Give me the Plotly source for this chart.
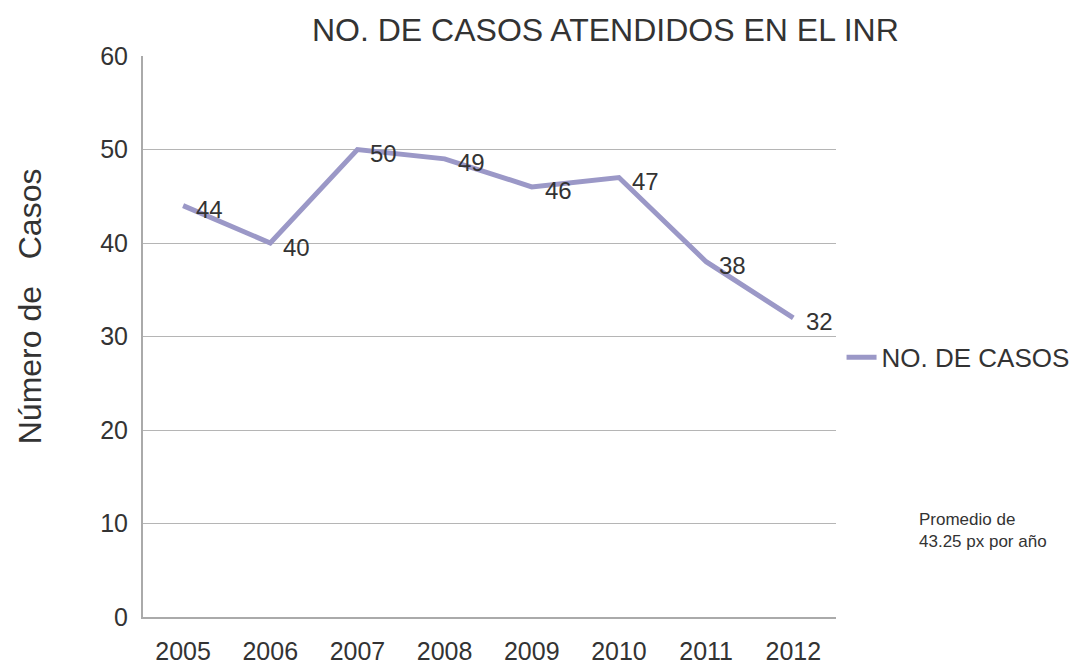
import plotly.graph_objects as go

years = ["2005", "2006", "2007", "2008", "2009", "2010", "2011", "2012"]
casos = [44, 40, 50, 49, 46, 47, 38, 32]
y_ticks = [0, 10, 20, 30, 40, 50, 60]

FONT = "Liberation Sans, Arial, Helvetica, sans-serif"
TEXT = "#333333"
LINE = "#9b98c7"

fig = go.Figure()
fig.add_trace(go.Scatter(
    x=years, y=casos,
    mode="lines",
    name="NO. DE CASOS",
    line=dict(color=LINE, width=5),
    cliponaxis=False,
))

# value labels sit just to the right of each point
for i, v in enumerate(casos):
    fig.add_annotation(
        x=i, y=v, xref="x", yref="y", text=str(v), showarrow=False,
        xanchor="left", yanchor="middle", xshift=11, yshift=-4,
        font=dict(family=FONT, size=24, color=TEXT),
    )

fig.update_layout(
    width=1081, height=666,
    margin=dict(l=143, r=245, t=56, b=49, autoexpand=False),
    paper_bgcolor="white", plot_bgcolor="white",
    font=dict(family=FONT, color=TEXT),
    title=dict(text="NO. DE CASOS ATENDIDOS EN EL INR",
               x=0.56, xanchor="center", y=0.955, yanchor="middle",
               font=dict(size=32, color=TEXT, family=FONT)),
    showlegend=True,
    legend=dict(x=1.008, xanchor="left", y=0.463, yanchor="middle",
                font=dict(size=26, color=TEXT, family=FONT),
                itemwidth=30, bgcolor="rgba(0,0,0,0)"),
    xaxis=dict(type="category", range=[-0.46, 7.49], automargin=False,
               showgrid=False, showline=True, linecolor="#aaaaaa", linewidth=2,
               ticks="", tickfont=dict(size=25, color=TEXT), ticklabelstandoff=11),
    yaxis=dict(range=[0, 60], tickvals=y_ticks, automargin=False,
               showgrid=True, gridcolor="#b5b5b5", gridwidth=1.2,
               showline=True, linecolor="#aaaaaa", linewidth=2,
               zeroline=False, ticks="", tickfont=dict(size=25, color=TEXT),
               ticklabelstandoff=8),
)

# vertical axis caption
fig.add_annotation(
    xref="paper", yref="paper", x=-0.163, y=0.554, xanchor="center", yanchor="middle",
    text="Número de   Casos", textangle=-90, showarrow=False,
    font=dict(size=32, color=TEXT, family=FONT),
)

fig.add_annotation(
    xref="paper", yref="paper", x=1.117, y=0.155, xanchor="left", yanchor="middle",
    text="Promedio de<br>43.25 px por año", showarrow=False, align="left",
    font=dict(size=17, color=TEXT, family=FONT),
)

fig.write_html("out.html")
